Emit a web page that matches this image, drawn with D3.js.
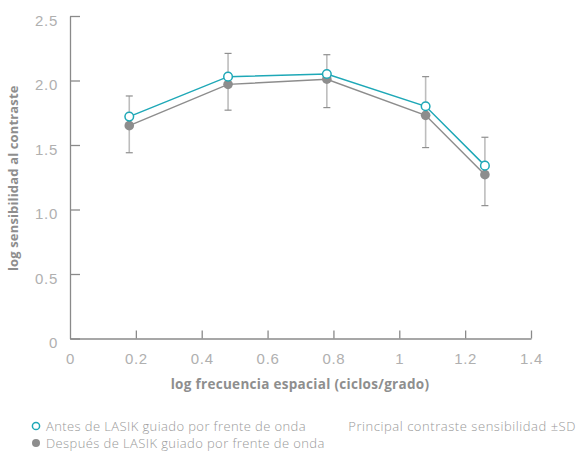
<!DOCTYPE html>
<html>
<head>
<meta charset="utf-8">
<script src="https://cdn.jsdelivr.net/npm/d3@7/dist/d3.min.js"></script>
<style>
  html, body { margin: 0; padding: 0; background: #fff; }
  svg { display: block; font-family: "Open Sans", Lato, sans-serif; }
</style>
</head>
<body>
<svg id="chart" width="584" height="452"></svg>
<script>
// Spatial frequency (log cycles/degree)
const freq = [0.18, 0.48, 0.78, 1.08, 1.26];
// Mean log contrast sensitivity before and after wavefront-guided LASIK
const before = [1.72, 2.03, 2.05, 1.80, 1.34];
const after = [1.65, 1.97, 2.01, 1.73, 1.27];
// ±SD range
const sdLow = [1.44, 1.77, 1.79, 1.48, 1.03];
const sdHigh = [1.88, 2.21, 2.20, 2.03, 1.56];
const xTicks = [0, 0.2, 0.4, 0.6, 0.8, 1, 1.2, 1.4];
const yTicks = [0, 0.5, 1.0, 1.5, 2.0, 2.5];
const yTickLabels = ["0", "0.5", "1.0", "1.5", "2.0", "2.5"];

const teal = "#1ea8b7";
const grey = "#8d8d8d";
const axisGrey = "#8a8a8a";
const tickText = "#b0b0b0";

const svg = d3.select("#chart");
const x = d3.scaleLinear().domain([0, 1.4]).range([70, 531]);
const y = d3.scaleLinear().domain([0, 2.5]).range([338.5, 16]);

// Y axis: line with inward ticks
const yAxis = svg.append("g").attr("transform", `translate(${x(0)},0)`)
  .call(d3.axisLeft(y).tickValues(yTicks).tickSizeInner(-10).tickSizeOuter(0)
    .tickPadding(12).tickFormat((d, i) => yTickLabels[i]));
yAxis.select(".domain").attr("stroke", axisGrey).attr("stroke-width", 1.3);
yAxis.selectAll(".tick line").attr("stroke", axisGrey).attr("stroke-width", 1.3);
yAxis.selectAll(".tick text").attr("fill", tickText).attr("dy", "0.62em")
  .style("font-size", "15px").style("font-weight", 300).style("letter-spacing", "0.7px");

// X axis: line with upward ticks
const xAxis = svg.append("g").attr("transform", `translate(0,${y(0)})`)
  .call(d3.axisBottom(x).tickValues(xTicks).tickSizeInner(-8).tickSizeOuter(0)
    .tickPadding(15).tickFormat(d => d3.format("")(d)));
xAxis.select(".domain").attr("stroke", axisGrey).attr("stroke-width", 1.3);
xAxis.selectAll(".tick line").attr("stroke", axisGrey).attr("stroke-width", 1.3)
  .filter(d => d === 0).remove();
xAxis.selectAll(".tick text").attr("fill", tickText)
  .style("font-size", "15px").style("font-weight", 300).style("letter-spacing", "0.7px");

// Axis titles
svg.append("text")
  .attr("transform", `translate(18,${(y(2.5) + y(0)) / 2 + 1}) rotate(-90)`)
  .attr("text-anchor", "middle").attr("fill", "#8e8e8e")
  .style("font-size", "13px").style("font-weight", 700).style("letter-spacing", "0.15px")
  .text("log sensibilidad al contraste");
svg.append("text")
  .attr("x", 300).attr("y", 388.5)
  .attr("text-anchor", "middle").attr("fill", "#8e8e8e")
  .style("font-size", "13.5px").style("font-weight", 700).style("letter-spacing", "0.3px")
  .text("log frecuencia espacial (ciclos/grado)");

// Error bars (±SD)
const eb = svg.append("g");
freq.forEach((f, i) => {
  eb.append("line").attr("x1", x(f)).attr("x2", x(f))
    .attr("y1", y(sdLow[i])).attr("y2", y(sdHigh[i]))
    .attr("stroke", "#bdbdbd").attr("stroke-width", 1.6);
  [sdLow[i], sdHigh[i]].forEach(v => {
    eb.append("line").attr("x1", x(f) - 3.5).attr("x2", x(f) + 3.5)
      .attr("y1", y(v)).attr("y2", y(v))
      .attr("stroke", "#8f8f8f").attr("stroke-width", 1.2);
  });
});

const line = d3.line().x((d, i) => x(freq[i])).y(d => y(d));

// After series (grey, filled markers)
svg.append("path").datum(after).attr("d", line)
  .attr("fill", "none").attr("stroke", grey).attr("stroke-width", 1.5);
svg.append("g").selectAll("circle").data(after).join("circle")
  .attr("cx", (d, i) => x(freq[i])).attr("cy", d => y(d)).attr("r", 4.8)
  .attr("fill", grey);

// Before series (teal, open markers)
svg.append("path").datum(before).attr("d", line)
  .attr("fill", "none").attr("stroke", teal).attr("stroke-width", 1.5);
svg.append("g").selectAll("circle").data(before).join("circle")
  .attr("cx", (d, i) => x(freq[i])).attr("cy", d => y(d)).attr("r", 4.3)
  .attr("fill", "#fff").attr("stroke", teal).attr("stroke-width", 1.5);

// Legend
const leg = svg.append("g").style("font-size", "13px").style("font-weight", 300)
  .style("letter-spacing", "0.4px").attr("fill", "#999");
leg.append("circle").attr("cx", 36).attr("cy", 426).attr("r", 3.6)
  .attr("fill", "#fff").attr("stroke", teal).attr("stroke-width", 1.5);
leg.append("text").attr("x", 46).attr("y", 430.5).text("Antes de LASIK guiado por frente de onda");
leg.append("circle").attr("cx", 36).attr("cy", 443).attr("r", 4).attr("fill", grey);
leg.append("text").attr("x", 46).attr("y", 447.5).text("Después de LASIK guiado por frente de onda");
leg.append("text").attr("x", 576).attr("y", 430.5).attr("text-anchor", "end")
  .style("letter-spacing", "0.55px")
  .text("Principal contraste sensibilidad ±SD");
</script>
</body>
</html>
